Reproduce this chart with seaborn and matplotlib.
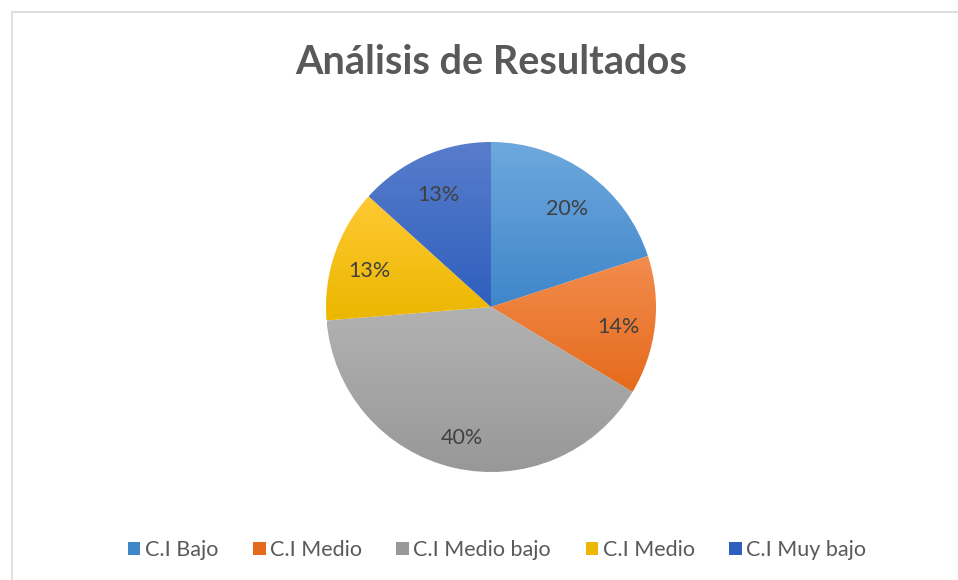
"""Pie chart: Análisis de Resultados."""

import matplotlib
matplotlib.use("Agg")
import matplotlib.pyplot as plt
import numpy as np
import seaborn as sns
from matplotlib.colors import to_rgb
from matplotlib.patches import Patch, Rectangle

categories = ["C.I Bajo", "C.I Medio", "C.I Medio bajo", "C.I Medio", "C.I Muy bajo"]
values = [20.0, 13.6, 40.1, 13.0, 13.3]
top_colors = ["#6EA8DE", "#F28C4E", "#B2B2B2", "#FFC933", "#587DCB"]
bottom_colors = ["#3F86C9", "#E56B1C", "#989898", "#EBB700", "#2F5FBE"]

sns.set_theme(style="white")
plt.rcParams["font.family"] = ["Lato", "DejaVu Sans"]

W, H = 958, 580
cx, cy, R = 491, 307, 165

fig = plt.figure(figsize=(W / 100, H / 100), dpi=100)
ax = fig.add_axes([0, 0, 1, 1])
ax.set_xlim(-cx / R, (W - cx) / R)
ax.set_ylim(-(H - cy) / R, cy / R)
ax.set_aspect("equal")
ax.axis("off")

palette = sns.color_palette(bottom_colors)
wedges, texts, autotexts = ax.pie(
    values,
    colors=palette,
    startangle=90,
    counterclock=False,
    autopct="%1.0f%%",
    pctdistance=0.78,
    radius=1,
    textprops={"fontsize": 15.5, "color": "#404040"},
)

# vertical gradient fill per wedge
for w, c0, c1 in zip(wedges, top_colors, bottom_colors):
    ext = w.get_path().get_extents(w.get_transform())
    inv = ax.transData.inverted()
    (x0, y0), (x1, y1) = inv.transform([[ext.x0, ext.y0], [ext.x1, ext.y1]])
    t = np.linspace(0, 1, 128)[:, None]
    grad = (1 - t) * np.array(to_rgb(c0)) + t * np.array(to_rgb(c1))
    img = ax.imshow(grad[:, None, :].repeat(2, axis=1), extent=[x0, x1, y0, y1],
                    origin="upper", aspect="auto", zorder=w.get_zorder() + 0.1)
    img.set_clip_path(w)
for t in autotexts:
    x, y = t.get_position()
    t.set_position((x, y - 0.035))
    t.set_zorder(5)

ax.set_xlim(-cx / R, (W - cx) / R)
ax.set_ylim(-(H - cy) / R, cy / R)

fig.text(491 / W, 1 - 62 / H, "Análisis de Resultados", ha="center", va="center",
         fontsize=28.5, fontweight="bold", color="#595959")

handles = [Patch(facecolor=c, edgecolor="none") for c in bottom_colors]
fig.legend(handles, categories, loc="center", bbox_to_anchor=(497 / W, 1 - 550 / H),
           ncol=5, frameon=False, fontsize=15.5, handlelength=0.6, handleheight=0.6,
           handletextpad=0.2, columnspacing=1.6, labelcolor="#595959")

# chart area border (top/left visible)
fig.patches.append(Rectangle((11.5 / W, -0.1), 1.2, 1 - 11.5 / H + 0.1,
                             transform=fig.transFigure, fill=False,
                             edgecolor="#D9D9D9", linewidth=1.2))

fig.savefig("out.png", dpi=100)
